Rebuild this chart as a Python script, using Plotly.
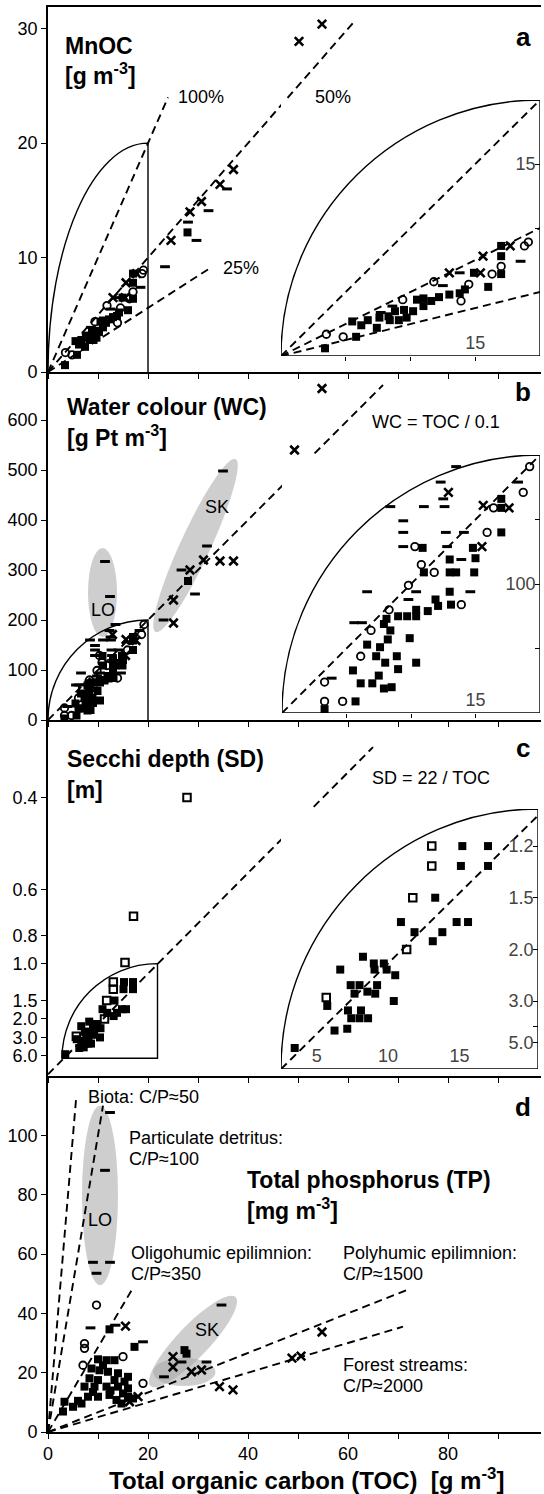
import numpy as np
import plotly.graph_objects as go

# ---------------- data ----------------
# Panel a: MnOC [g m-3] vs TOC [g m-3]
A_SQ_TOC = [3.4, 5.5, 5.8, 6.2, 6.7, 7.4, 7.6, 8.3, 8.4, 8.8, 9.1, 9.5, 9.7, 10.2, 10.5, 11.0, 11.0, 11.6, 12.2, 13.0, 13.8, 14.2, 14.9, 16.0, 17.0, 17.0, 17.0, 27.9]
A_SQ_VAL = [0.6, 2.7, 1.5, 2.4, 2.8, 2.2, 3.0, 3.1, 2.8, 3.5, 2.8, 3.6, 3.0, 3.5, 4.4, 4.5, 3.9, 4.3, 4.6, 4.8, 4.9, 5.2, 6.5, 5.4, 6.4, 7.8, 8.6, 12.2]
A_CI_TOC = [3.5, 4.8, 9.4, 11.8, 13.9, 14.5, 16.3, 17.0, 18.8, 19.1]
A_CI_VAL = [1.7, 1.5, 4.4, 5.8, 4.3, 5.6, 6.4, 7.0, 8.6, 8.9]
A_X_TOC = [13.0, 15.4, 15.6, 17.7, 24.6, 28.4, 30.7, 34.4, 37.1, 49.2, 50.2, 54.8]
A_X_VAL = [6.5, 6.5, 7.8, 8.6, 11.5, 14.0, 14.9, 16.4, 17.7, 21.0, 28.9, 30.4]
A_DA_TOC = [7.7, 8.6, 12.5, 13.8, 18.5, 23.4, 28.0, 29.7, 32.1, 35.8]
A_DA_VAL = [3.4, 3.9, 5.5, 6.5, 7.4, 9.2, 13.1, 11.5, 14.1, 16.0]

# Panel b: water colour WC [g Pt m-3] vs TOC
B_SQ_TOC = [3.3, 5.7, 5.5, 6.1, 7.0, 7.5, 7.9, 8.5, 7.3, 8.0, 8.9, 9.0, 10.4, 6.6, 7.6, 8.2, 8.4, 7.9, 8.1, 9.0, 9.7, 10.4, 9.9, 10.4, 11.3, 11.9, 12.1, 13.0, 13.1, 11.0, 13.0, 13.5, 14.9, 13.0, 15.0, 14.8, 10.9, 17.0, 17.0, 17.0, 28.0]
B_SQ_VAL = [3, 9, 33, 23, 23, 29, 19, 20, 44, 39, 44, 34, 39, 53, 51, 57, 64, 69, 73, 75, 75, 75, 58, 80, 79, 88, 83, 94, 84, 109, 109, 109, 109, 119, 120, 128, 128, 140, 159, 166, 278]
B_CI_TOC = [3.3, 4.7, 3.3, 6.1, 6.9, 8.3, 13.9, 9.8, 11.8, 10.8, 10.3, 15.9, 16.4, 18.7, 19.2]
B_CI_VAL = [9, 9, 24, 44, 64, 80, 84, 99, 109, 115, 129, 140, 159, 171, 191]
B_X_TOC = [15.5, 15.6, 17.6, 12.9, 25.1, 25.1, 28.4, 31.1, 34.4, 37.1, 49.3, 50.7, 54.8]
B_X_VAL = [129, 161, 159, 171, 194, 240, 300, 320, 318, 318, 540, 502, 663]
B_DA_TOC = [3.85, 5.6, 6.2, 9.8, 10.4, 6.6, 14.6, 13.9, 12.8, 9.4, 9.4, 12.7, 14.1, 9.4, 8.4, 11.0, 12.6, 12.5, 12.3, 18.3, 13.5, 11.4, 12.4, 23.1, 26.7, 29.4, 31.8, 35.0]
B_DA_VAL = [27, 70, 70, 88, 94, 94, 94, 119, 129, 129, 140, 140, 140, 149, 160, 160, 160, 166, 179, 179, 191, 317, 247, 200, 300, 252, 348, 498]

# Panel c: Secchi depth SD [m] vs TOC
C_SQ_TOC = [3.46, 5.74, 6.25, 7.14, 7.19, 7.42, 7.65, 7.38, 8.0, 8.0, 8.1, 8.6, 8.55, 9.1, 9.23, 9.05, 9.0, 9.7, 9.9, 8.24, 6.65, 10.5, 10.4, 11.85, 10.9, 13.3, 13.13, 13.8, 14.8, 15.6, 15.2, 15.1, 17.0, 17.0]
C_SQ_SD = [5.5, 3.15, 4.2, 4.1, 3.3, 3.6, 2.8, 2.6, 2.6, 3.6, 3.3, 3.6, 2.75, 2.8, 2.6, 2.3, 2.2, 2.2, 2.3, 2.1, 2.3, 2.4, 3.0, 1.8, 1.7, 1.5, 1.9, 1.8, 1.7, 1.7, 1.2, 1.3, 1.2, 1.3]
C_OS_TOC = [5.67, 11.3, 11.73, 13.06, 13.06, 15.4, 17.1, 27.8]
C_OS_SD = [2.9, 2.0, 1.5, 1.3, 1.2, 0.99, 0.70, 0.40]

# Panel d: total phosphorus TP [mg m-3] vs TOC
D_SQ_TOC = [12.3, 17.3, 10, 11.7, 13.3, 8.7, 10.3, 12, 14, 16, 8.3, 10, 13.3, 15.3, 7.3, 9.3, 11.7, 14, 16, 8, 10, 12.3, 13.7, 16, 17, 14.7, 3.3, 3, 5, 6.7, 27.3, 27.7, 11, 6, 9, 15, 12.5]
D_SQ_VAL = [34.6, 28.7, 24.5, 24.2, 24.2, 21.4, 20.8, 20.3, 19.8, 18.6, 18.1, 17.5, 17.5, 17.0, 15.3, 15.3, 15.3, 15.3, 14.7, 11.9, 11.9, 12.5, 10.8, 11.9, 11.3, 9.6, 10.2, 6.9, 8.5, 9.6, 27.6, 26.4, 22.5, 10.5, 13.5, 13, 14]
D_CI_TOC = [9.7, 7.3, 7.3, 19, 7, 15]
D_CI_VAL = [42.8, 29.8, 28.2, 16.4, 22.5, 25.4]
D_X_TOC = [15.5, 18, 16.3, 25, 25, 28.7, 30.7, 34.3, 37, 48.8, 50.6, 54.8]
D_X_VAL = [35.7, 11.9, 10.2, 25.4, 21.9, 20.3, 20.9, 15.3, 14.2, 24.9, 25.6, 33.7]
D_DA_TOC = [8.5, 19, 26.7, 31.7, 23.2, 34.7, 11.4, 9, 12.4, 9.7, 12.4, 13.5]
D_DA_VAL = [35.1, 30.4, 23.6, 23.6, 18.6, 42.8, 88.2, 57.2, 57.2, 53.5, 107.7, 36]

# reference lines: (slope, end TOC)
A_LINES = [(1.0, 24), (0.5, 61), (0.28, 32)]
A_INSET_SLOPES = [1.0, 0.5, 0.25]
B_SLOPE, B_END = 10.0, 67
C_DIV, C_END = 22.0, 65
D_CP = [50, 100, 350, 1500, 2000]
D_END = [5.6, 11.0, 16.7, 72, 71]

X_TICKS = [0, 20, 40, 60, 80]
X_MINOR = [10, 30, 50, 70, 90]
A_TICKS = [0, 10, 20, 30]
B_TICKS = [0, 100, 200, 300, 400, 500, 600]
C_TICKS = [0.4, 0.6, 0.8, 1.0, 1.5, 2.0, 3.0, 6.0]
C_INSET_TICKS = [1.2, 1.5, 2.0, 3.0, 5.0]
C_INSET_MINOR = [4.0, 6.0]
D_TICKS = [0, 20, 40, 60, 80, 100]

# ---------------- layout helpers ----------------
W, H = 544, 1494
ML, MR, MT, MB = 48, 3, 7, 62
PW = W - ML - MR
PH = H - MT - MB
FONT = "Liberation Sans, Arial, Helvetica, sans-serif"


def px(xp):
    return (xp - ML) / PW


def py(yp):
    return (H - MB - yp) / PH


fig = go.Figure()

STY = {
    'sq': dict(symbol='square', size=8, color='black', line=dict(width=0)),
    'ci': dict(symbol='circle-open', size=7.5, color='black', line=dict(width=1.8, color='black')),
    'x': dict(symbol='x-thin', size=8.5, color='black', line=dict(width=2.6, color='black')),
    'da': dict(symbol='line-ew', size=7, color='black', line=dict(width=3, color='black')),
    'os': dict(symbol='square-open', size=7.5, color='black', line=dict(width=2, color='black')),
}


def pts(xs, ys, kind, xa, ya):
    fig.add_trace(go.Scatter(x=xs, y=ys, mode='markers', marker=STY[kind],
                             xaxis=xa, yaxis=ya, hoverinfo='skip'))


def dline(x0, x1, slope, xa, ya):
    fig.add_trace(go.Scatter(x=[x0, x1], y=[x0 * slope, x1 * slope], mode='lines',
                             line=dict(color='black', width=1.9, dash='8px,5px'),
                             xaxis=xa, yaxis=ya, hoverinfo='skip'))


def recip(v):
    return [1.0 / s for s in v]


# panel a (main + inset)
for xa, ya in [('x', 'y'), ('x5', 'y5')]:
    pts(A_SQ_TOC, A_SQ_VAL, 'sq', xa, ya)
    pts(A_CI_TOC, A_CI_VAL, 'ci', xa, ya)
    pts(A_X_TOC, A_X_VAL, 'x', xa, ya)
    pts(A_DA_TOC, A_DA_VAL, 'da', xa, ya)
for s, e in A_LINES:
    dline(0, e, s, 'x', 'y')
for s in A_INSET_SLOPES:
    dline(0, 20, s, 'x5', 'y5')

# panel b
for xa, ya in [('x2', 'y2'), ('x6', 'y6')]:
    pts(B_SQ_TOC, B_SQ_VAL, 'sq', xa, ya)
    pts(B_CI_TOC, B_CI_VAL, 'ci', xa, ya)
    pts(B_X_TOC, B_X_VAL, 'x', xa, ya)
    pts(B_DA_TOC, B_DA_VAL, 'da', xa, ya)
dline(0, B_END, B_SLOPE, 'x2', 'y2')
dline(0, 20, B_SLOPE, 'x6', 'y6')

# panel c (y axis = 1/SD)
for xa, ya in [('x3', 'y3'), ('x7', 'y7')]:
    pts(C_SQ_TOC, recip(C_SQ_SD), 'sq', xa, ya)
    pts(C_OS_TOC, recip(C_OS_SD), 'os', xa, ya)
dline(0, C_END, 1 / C_DIV, 'x3', 'y3')
dline(2.5, 20.5, 1 / C_DIV, 'x7', 'y7')

# panel d
pts(D_SQ_TOC, D_SQ_VAL, 'sq', 'x4', 'y4')
pts(D_CI_TOC, D_CI_VAL, 'ci', 'x4', 'y4')
pts(D_X_TOC, D_X_VAL, 'x', 'x4', 'y4')
pts(D_DA_TOC, D_DA_VAL, 'da', 'x4', 'y4')
for cp, e in zip(D_CP, D_END):
    dline(0, e, 1000.0 / cp, 'x4', 'y4')

# ---------------- axes ----------------
TICKF = 18
xcommon = dict(range=[0, 98.6], showgrid=False, zeroline=False, showline=True,
               linewidth=1.6, linecolor='black', ticks='outside', ticklen=5,
               tickwidth=1.4, tickcolor='black', tickmode='array', tickvals=X_TICKS,
               minor=dict(tickmode='array', tickvals=X_MINOR, ticks='outside',
                          ticklen=5, tickwidth=1.4, tickcolor='black', showgrid=False),
               domain=[0, 1], tickfont=dict(size=TICKF))
ycommon = dict(showgrid=False, zeroline=False, showline=True, linewidth=1.6,
               linecolor='black', ticks='outside', ticklen=5, tickwidth=1.4,
               tickcolor='black', tickfont=dict(size=TICKF))

y_a = [py(372), 1.0]
y_b = [py(720), py(372)]
y_c = [py(1076), py(720)]
y_d = [0.0, py(1076)]

layout = dict(
    xaxis=dict(xcommon, anchor='y', showticklabels=False, mirror=True),
    xaxis2=dict(xcommon, anchor='y2', showticklabels=False),
    xaxis3=dict(xcommon, anchor='y3', showticklabels=False),
    xaxis4=dict(xcommon, anchor='y4', showticklabels=True),
    yaxis=dict(ycommon, anchor='x', domain=y_a, range=[0, 31.9], tickvals=A_TICKS),
    yaxis2=dict(ycommon, anchor='x2', domain=y_b, range=[0, 696], tickvals=B_TICKS),
    yaxis3=dict(ycommon, anchor='x3', domain=y_c, range=[-0.015, 3.2],
                tickvals=recip(C_TICKS), ticktext=[f"{v:.1f}" for v in C_TICKS]),
    yaxis4=dict(ycommon, anchor='x4', domain=y_d, range=[0, 120], tickvals=D_TICKS),
)

icommon_x = dict(showgrid=False, zeroline=False, showline=False, ticks='outside',
                 ticklen=4, tickwidth=1.2, tickcolor='black', tickmode='array',
                 ticklabelposition='inside', tickfont=dict(size=TICKF))
icommon_y = dict(showgrid=False, zeroline=False, showline=False, side='right',
                 ticks='inside', ticklen=5, tickwidth=1.2, tickcolor='black', tickmode='array',
                 ticklabelposition='inside', tickfont=dict(size=TICKF))


def minor(vals, where):
    return dict(tickmode='array', tickvals=vals, ticks=where, ticklen=5 if where == 'inside' else 4,
                tickwidth=1.2, tickcolor='black', showgrid=False)


layout['xaxis5'] = dict(icommon_x, anchor='y5', domain=[px(281), px(540)], range=[0, 20],
                        tickvals=[15], minor=minor([5, 10], 'outside'))
layout['yaxis5'] = dict(icommon_y, anchor='x5', domain=[py(356), py(100)], range=[0, 20],
                        tickvals=[15], minor=minor([5, 10], 'inside'))
layout['xaxis6'] = dict(icommon_x, anchor='y6', domain=[px(282), px(540)], range=[0, 20],
                        tickvals=[15], minor=minor([5, 10], 'outside'))
layout['yaxis6'] = dict(icommon_y, anchor='x6', domain=[py(713), py(455)], range=[0, 200],
                        tickvals=[100], minor=minor([50, 150], 'inside'))
layout['xaxis7'] = dict(icommon_x, anchor='y7', domain=[px(281), px(538)], range=[2.5, 20.5],
                        tickvals=[5, 10, 15], ticks='')
layout['yaxis7'] = dict(icommon_y, anchor='x7', domain=[py(1069), py(809)], range=[0.114, 0.953],
                        tickvals=recip(C_INSET_TICKS), ticktext=[f"{v:.1f}" for v in C_INSET_TICKS],
                        minor=minor(recip(C_INSET_MINOR), 'inside'))

fig.update_layout(**layout)

# ---------------- shapes: magnification outlines and groups ----------------
K = 0.5523


def arc(x0, y0, x1, y1):
    return (f"M {x0},{y0} C {x0},{y0 + K * (y1 - y0)} "
            f"{x1 - K * (x1 - x0)},{y1} {x1},{y1}")


shapes = []
solid = dict(color='black', width=1.4)
shapes.append(dict(type='path', xref='x', yref='y', path=arc(0, 0, 20, 20) + " L 20,0", line=solid))
shapes.append(dict(type='path', xref='x2', yref='y2', path=arc(0, 0, 20, 200) + " L 20,0", line=solid))
shapes.append(dict(type='path', xref='x3', yref='y3', path=arc(2.8, 0.145, 21.9, 1.0) + " L 21.9,0.145 Z", line=solid))
shapes.append(dict(type='path', xref='x5', yref='y5', path=arc(0, 0, 20, 20) + " L 20,0 Z", line=solid))
shapes.append(dict(type='path', xref='x6', yref='y6', path=arc(0, 0, 20, 200) + " L 20,0 Z", line=solid))
shapes.append(dict(type='path', xref='x7', yref='y7', path=arc(2.5, 0.114, 20.5, 0.953) + " L 20.5,0.114 Z", line=solid))

BLOB = 'rgba(165,165,165,0.55)'


def blob(a, b, half_w, sx, sy, xr, yr, n=48):
    (xa, ya), (xb, yb) = a, b
    cx, cy = (xa + xb) / 2, (ya + yb) / 2
    ux, uy = (xb - xa) / 2, (yb - ya) / 2
    dxp, dyp = ux * sx, uy * sy
    L = np.hypot(dxp, dyp)
    vx, vy = (-dyp / L * half_w) / sx, (dxp / L * half_w) / sy
    t = np.linspace(0, 2 * np.pi, n, endpoint=False)
    xs = cx + ux * np.cos(t) + vx * np.sin(t)
    ys = cy + uy * np.cos(t) + vy * np.sin(t)
    p = "M " + " L ".join(f"{x:.3f},{y:.3f}" for x, y in zip(xs, ys)) + " Z"
    return dict(type='path', xref=xr, yref=yr, path=p, fillcolor=BLOB,
                line=dict(width=0), layer='below')


shapes.append(dict(type='circle', xref='x2', yref='y2', x0=8.0, x1=13.8, y0=166, y1=344,
                   fillcolor=BLOB, line=dict(width=0), layer='below'))
shapes.append(blob((21.5, 176), (37.5, 522), 15, 5.0, 0.5, 'x2', 'y2'))
shapes.append(dict(type='circle', xref='x4', yref='y4', x0=6.8, x1=14.0, y0=49.5, y1=110,
                   fillcolor=BLOB, line=dict(width=0), layer='below'))
shapes.append(blob((20.5, 15.5), (37.5, 45.5), 16, 5.0, 2.97, 'x4', 'y4'))
shapes.append(dict(type='circle', xref='x4', yref='y4', x0=21, x1=33.5, y0=15.5, y1=25,
                   fillcolor=BLOB, line=dict(width=0), layer='below'))
fig.update_layout(shapes=shapes)

# ---------------- text ----------------
ann = []


def txt(x, y, s, size=18, bold=False, xanchor='left'):
    if bold:
        s = f"<b>{s}</b>"
    ann.append(dict(xref='paper', yref='paper', x=px(x), y=py(y), text=s, showarrow=False,
                    xanchor=xanchor, yanchor='middle', font=dict(size=size, family=FONT, color='black')))


TB = 23
TR = 18
txt(63, 46, "MnOC", TB, True)
txt(63, 74, "[g m<sup>-3</sup>]", TB, True)
txt(176, 97, "100%", TR)
txt(313, 97, "50%", TR)
txt(221, 268, "25%", TR)
txt(523, 37, "a", 26, True, 'center')

txt(65, 407, "Water colour (WC)", TB, True)
txt(65, 436, "[g Pt m<sup>-3</sup>]", TB, True)
txt(370, 422, "WC = TOC / 0.1", TR)
txt(523, 392, "b", 26, True, 'center')
txt(103, 610, "LO", TR, False, 'center')
txt(217, 507, "SK", TR, False, 'center')

txt(65, 759, "Secchi depth (SD)", TB, True)
txt(65, 790, "[m]", TB, True)
txt(370, 778, "SD = 22 / TOC", TR)
txt(523, 748, "c", 26, True, 'center')

txt(86, 1097, "Biota: C/P≈50", TR)
txt(127, 1138, "Particulate detritus:", TR)
txt(127, 1159, "C/P≈100", TR)
txt(245, 1180, "Total phosphorus (TP)", TB, True)
txt(245, 1209, "[mg m<sup>-3</sup>]", TB, True)
txt(129, 1253, "Oligohumic epilimnion:", TR)
txt(129, 1274, "C/P≈350", TR)
txt(341, 1253, "Polyhumic epilimnion:", TR)
txt(341, 1274, "C/P≈1500", TR)
txt(341, 1365, "Forest streams:", TR)
txt(341, 1386, "C/P≈2000", TR)
txt(523, 1107, "d", 26, True, 'center')
txt(100, 1220, "LO", TR, False, 'center')
txt(207, 1330, "SK", TR, False, 'center')

txt(306, 1479, "Total organic carbon (TOC)  [g m<sup>-3</sup>]", 24, True, 'center')

fig.update_layout(annotations=ann, width=W, height=H,
                  margin=dict(l=ML, r=MR, t=MT, b=MB),
                  paper_bgcolor='white', plot_bgcolor='white', showlegend=False,
                  font=dict(family=FONT, size=TICKF, color='black'))

fig.write_html("out.html", config={'displayModeBar': False},
               post_script="document.body.style.margin='0';document.body.style.overflow='hidden';")
